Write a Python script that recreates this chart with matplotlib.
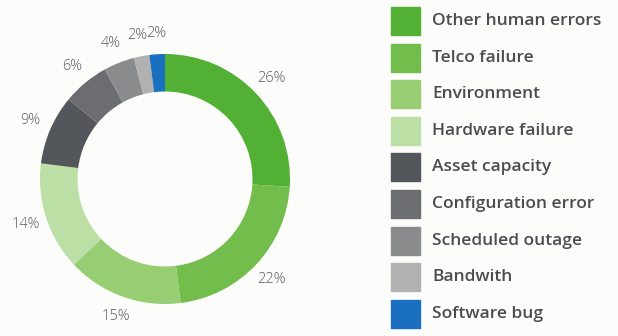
import matplotlib.pyplot as plt
from matplotlib.patches import Rectangle

categories = ["Other human errors", "Telco failure", "Environment", "Hardware failure",
              "Asset capacity", "Configuration error", "Scheduled outage", "Bandwith", "Software bug"]
shares = [26, 22, 15, 14, 9, 6, 4, 2, 2]
colors = ["#52b034", "#72bd4b", "#98ce73", "#bbdfa5", "#53565b",
          "#6b6d70", "#8a8b8d", "#b1b1b1", "#1a6fbf"]

bg = "#fcfcfa"
fig = plt.figure(figsize=(6.18, 3.36), dpi=100, facecolor=bg)

# donut axes: center ~ (165, 179) px, radius ~125 px
r = 125
ax = fig.add_axes([(165 - r * 1.3) / 618, (336 - 179 - r * 1.3) / 336,
                   2 * r * 1.3 / 618, 2 * r * 1.3 / 336])
ax.set_facecolor(bg)
wedges, texts = ax.pie(shares, colors=colors, startangle=90, counterclock=False,
                       labels=[f"{v}%" for v in shares], labeldistance=1.17,
                       radius=1.0, wedgeprops=dict(width=0.30, edgecolor="none"),
                       textprops=dict(color="#5a5c60", fontsize=10.5, family="Open Sans",
                                      fontweight="light"))
for t in texts:
    t.set_ha("center")
    t.set_va("center")
    t.set_clip_on(False)
ax.set_xlim(-1.3, 1.3)
ax.set_ylim(-1.3, 1.3)
ax.set_aspect("equal")

# legend on the right
leg = fig.add_axes([0, 0, 1, 1], facecolor="none")
leg.set_xlim(0, 618)
leg.set_ylim(336, 0)
leg.axis("off")
for i, (name, c) in enumerate(zip(categories, colors)):
    y = 21 + i * 36.6
    leg.add_patch(Rectangle((391, y - 14), 29, 28, color=c))
    leg.text(432, y, name, va="center", ha="left", fontsize=12.5,
             fontweight="semibold", family="Open Sans", color="#4a4c50")

fig.savefig("out.png", dpi=100, facecolor=bg)
